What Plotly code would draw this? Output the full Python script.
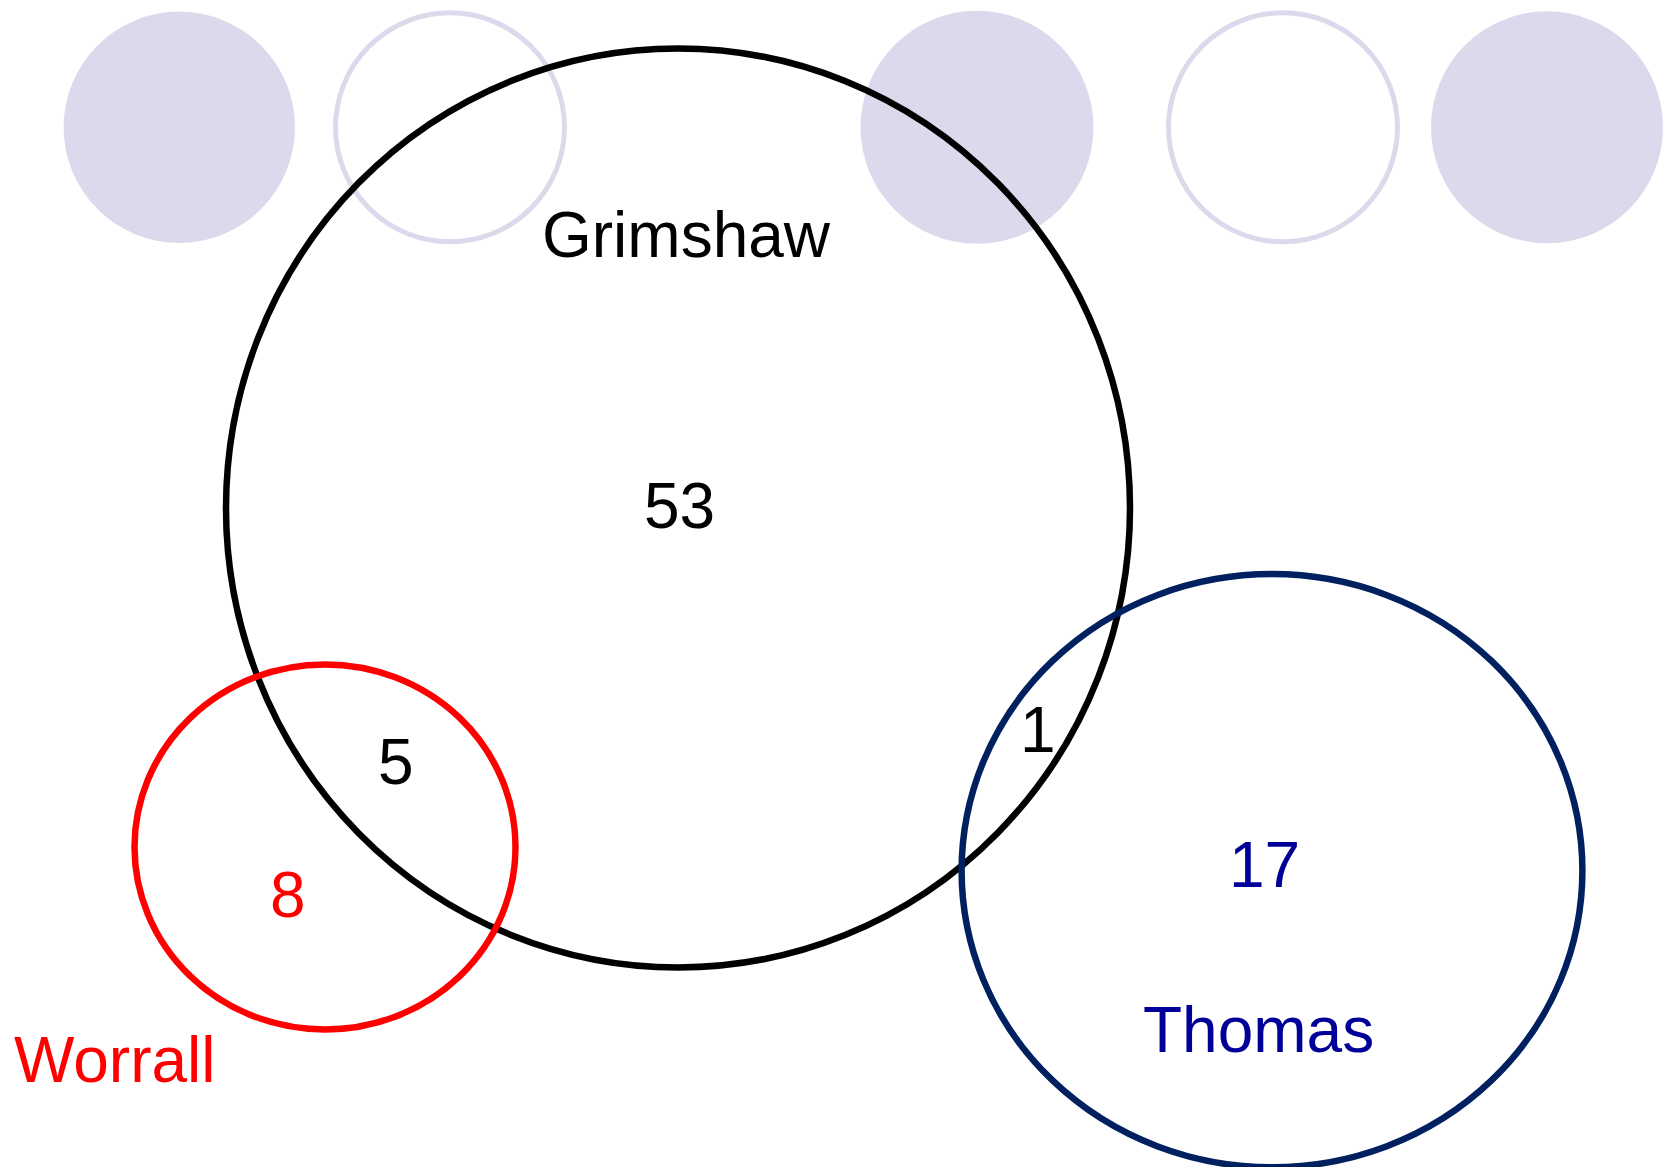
import plotly.graph_objects as go

# --- data ---
set_names = ["Grimshaw", "Worrall", "Thomas"]
region_labels = ["53", "5", "1", "8", "17"]
set_colors = ["#000000", "#FF0000", "#002060"]
text_colors = ["#000000", "#FF0000", "#000099"]

W, H = 1664, 1167
DX, DY = 0, 0

fig = go.Figure()
fig.add_trace(go.Scatter(x=[0, W], y=[0, H], mode="markers",
                         marker=dict(opacity=0), hoverinfo="skip", showlegend=False))

shapes = []
lav = "#DADAEC"
# decorative circles along the top
deco = [(179.3, 127.3, 115.7, True), (450, 127.3, 117, False), (977, 127.3, 116.5, True),
        (1283, 127.3, 117, False), (1547, 127.3, 116, True)]
for cx, cy, r, filled in deco:
    cx += DX; cy += DY
    if filled:
        shapes.append(dict(type="circle", xref="x", yref="y", x0=cx - r, x1=cx + r, y0=cy - r, y1=cy + r,
                           fillcolor=lav, line=dict(width=0), layer="below"))
    else:
        shapes.append(dict(type="circle", xref="x", yref="y", x0=cx - r + 2.5, x1=cx + r - 2.5, y0=cy - r + 2.5, y1=cy + r - 2.5,
                           fillcolor="rgba(0,0,0,0)", line=dict(color=lav, width=5), layer="below"))

# Venn ellipses
ellipses = [(678, 508, 452, 459.5), (325, 847, 190.5, 182.5), (1272, 870.7, 310.4, 296.6)]
for (cx, cy, rx, ry), col in zip(ellipses, set_colors):
    cx += DX; cy += DY
    shapes.append(dict(type="circle", xref="x", yref="y", x0=cx - rx, x1=cx + rx, y0=cy - ry, y1=cy + ry,
                       fillcolor="rgba(0,0,0,0)", line=dict(color=col, width=6.5), layer="above"))

annotations = []
font = "Liberation Sans, Arial, sans-serif"
name_pos = [(686.6, 234.5), (114.6, 1060), (1258.6, 1030)]
for name, (x, y), col in zip(set_names, name_pos, text_colors):
    annotations.append(dict(x=x + DX, y=y + DY, text=name, showarrow=False, xref="x", yref="y",
                            xanchor="center", yanchor="middle",
                            font=dict(family=font, size=64, color=col)))
region_pos = [(679, 506), (396, 762), (1038, 730), (287.6, 894.6), (1264, 865)]
region_cols = [text_colors[0], text_colors[0], text_colors[0], text_colors[1], text_colors[2]]
for lab, (x, y), col in zip(region_labels, region_pos, region_cols):
    annotations.append(dict(x=x + DX, y=y + DY, text=lab, showarrow=False, xref="x", yref="y",
                            xanchor="center", yanchor="middle",
                            font=dict(family=font, size=64, color=col)))

fig.update_layout(
    width=W, height=H,
    margin=dict(l=0, r=0, t=0, b=0),
    paper_bgcolor="white", plot_bgcolor="white",
    xaxis=dict(range=[0, W], visible=False, fixedrange=True),
    yaxis=dict(range=[H, 0], visible=False, fixedrange=True),
    shapes=shapes, annotations=annotations, showlegend=False,
)
post = ("document.body.style.margin='0';document.body.style.overflow='hidden';"
        "document.documentElement.style.overflow='hidden';")
fig.write_html("out.html", config={"displayModeBar": False}, post_script=post)
